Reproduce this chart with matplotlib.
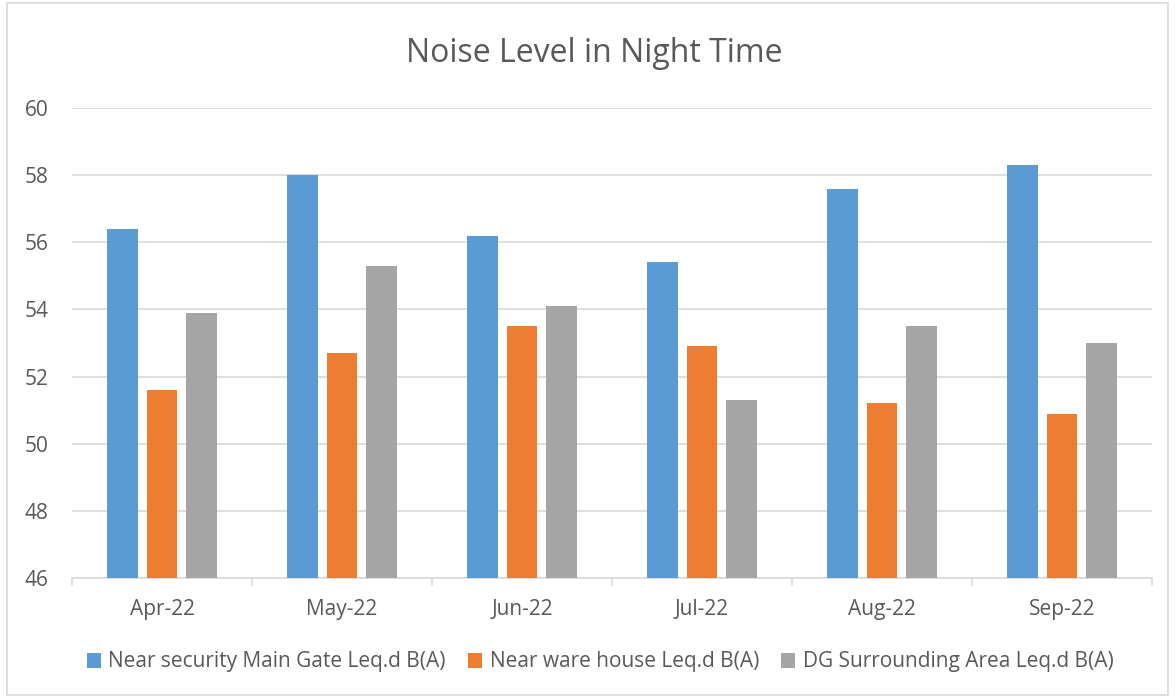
import numpy as np
import matplotlib.pyplot as plt
from matplotlib.patches import Rectangle

months = ["Apr-22", "May-22", "Jun-22", "Jul-22", "Aug-22", "Sep-22"]
main_gate = [56.4, 58.0, 56.2, 55.4, 57.6, 58.3]
ware_house = [51.6, 52.7, 53.5, 52.9, 51.2, 50.9]
dg_area = [53.9, 55.3, 54.1, 51.3, 53.5, 53.0]
series_names = ["Near security Main Gate Leq.d B(A)",
                "Near ware house Leq.d B(A)",
                "DG Surrounding Area Leq.d B(A)"]
colors = ["#5B9BD5", "#ED7D31", "#A5A5A5"]

plt.rcParams['font.family'] = ['Open Sans', 'DejaVu Sans']
text_col = "#595959"

fig = plt.figure(figsize=(11.75, 6.96), dpi=100)
ax = fig.add_axes([72 / 1175, 1 - 578 / 696, (1152 - 72) / 1175, (578 - 108) / 696])

x = np.arange(len(months))
width = 0.172
offset = 0.222
for i, (vals, name) in enumerate(zip([main_gate, ware_house, dg_area], series_names)):
    ax.bar(x + (i - 1) * offset, np.array(vals) - 46, width, bottom=46,
           color=colors[i], label=name, zorder=3)

ax.set_xlim(-0.5, len(months) - 0.5)
ax.set_ylim(46, 60)
ax.set_yticks(range(46, 61, 2))
ax.set_xticks(x)
ax.set_xticklabels(months)
ax.grid(axis='y', color="#D9D9D9", linewidth=1.2, zorder=0)
for s in ["top", "right", "left"]:
    ax.spines[s].set_visible(False)
ax.spines["bottom"].set_color("#D9D9D9")
ax.spines["bottom"].set_linewidth(1.2)
ax.tick_params(axis='y', length=0, pad=17, labelsize=15, labelcolor=text_col)
ax.tick_params(axis='x', length=0, pad=15, labelsize=15, labelcolor=text_col)
# category separator ticks
ax.set_xticks(np.arange(-0.5, len(months), 1), minor=True)
ax.tick_params(axis='x', which='minor', length=6, color="#D9D9D9", width=1.2)

fig.text(594 / 1175, 1 - 53 / 696, "Noise Level in Night Time", ha='center', va='center',
         fontsize=23, color=text_col)

leg = fig.legend(loc='center', bbox_to_anchor=(600 / 1175, 1 - 662 / 696), ncol=3,
                 frameon=False, fontsize=15, handlelength=0.7, handleheight=0.7,
                 handletextpad=0.35, columnspacing=1.05)
for t in leg.get_texts():
    t.set_color(text_col)

fig.patches.append(Rectangle((7 / 1175, 0.002), 1 - 14 / 1175, 0.994,
                             transform=fig.transFigure, fill=False,
                             edgecolor="#D9D9D9", linewidth=1.2))

fig.savefig("out.png", dpi=100, facecolor="white")
